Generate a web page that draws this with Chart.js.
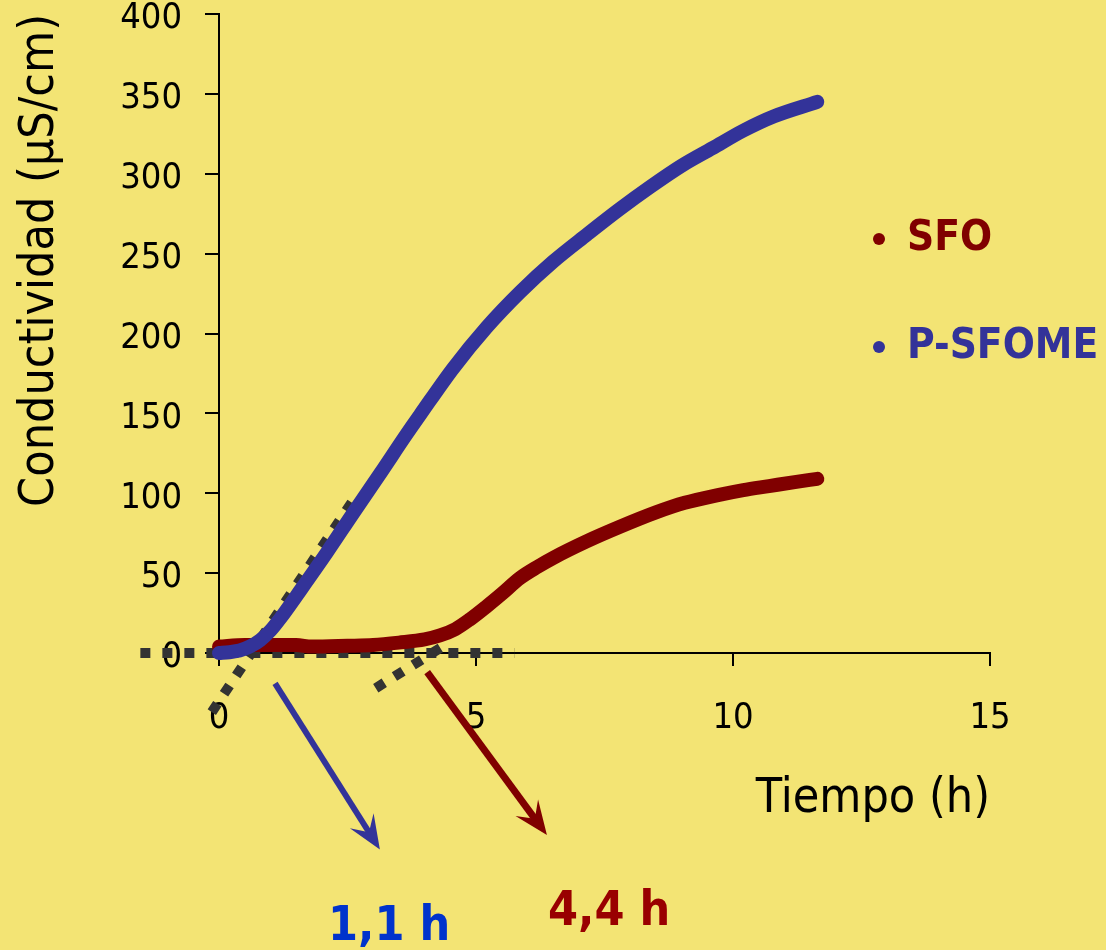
<!DOCTYPE html>
<html lang="es">
<head>
<meta charset="UTF-8">
<title>Conductividad frente al tiempo</title>
<script src="https://cdn.jsdelivr.net/npm/chart.js"></script>
<style>
  html, body { margin: 0; padding: 0; background: #F3E474; }
  #grafico { display: block; }
</style>
</head>
<body>
<canvas id="grafico" width="1106" height="950"></canvas>
<script>
// Valores: tiempo en h, conductividad en µS/cm
const tiempoPSFOME = [0, 0.2, 0.4, 0.6, 0.8, 1.0, 1.2, 1.6, 2.1, 2.6, 3.15, 3.65, 3.91, 4.55, 5.21, 5.86, 6.5, 7.16, 7.8, 8.4, 9.0, 9.6, 10.2, 10.8, 11.64];
const condPSFOME   = [0, 0.5, 1.5, 4, 8, 14, 22, 40, 63, 87, 113, 137, 149, 178, 204, 226, 245, 262, 278, 292, 305, 316, 327, 336, 345];

const tiempoSFO = [0, 0.5, 1.0, 1.5, 1.8, 2.5, 3.0, 3.5, 4.0, 4.3, 4.6, 4.88, 5.2, 5.5, 5.86, 6.2, 6.5, 7.16, 7.8, 8.5, 9.06, 9.73, 10.2, 10.7, 11.2, 11.64];
const condSFO   = [4, 5, 5, 5, 4, 4.5, 5, 6.5, 8.5, 11, 15, 21, 29, 37, 47, 54, 59.5, 70, 79, 88, 94, 99, 102, 104.5, 107, 109];

// rectas de punteado (línea base y tangentes)
const baseX = [-1.53, 5.75];
const baseY = [0, 0];
const tangPSFOMEX = [-0.14, 2.7];
const tangPSFOMEY = [-37, 100];
const tangSFOX = [3.05, 4.45];
const tangSFOY = [-22, 6];

// flechas hacia los tiempos de inducción
const flechaPSFOMEX = [1.09, 3.13];
const flechaPSFOMEY = [-19, -123];
const flechaSFOX = [4.05, 6.38];
const flechaSFOY = [-12, -114];

const ticksX = [0, 5, 10, 15];
const ticksY = [0, 50, 100, 150, 200, 250, 300, 350, 400];

const fuente = "'DejaVu Sans Condensed', 'Open Sans', 'DejaVu Sans', sans-serif";
Chart.defaults.font.family = fuente;
Chart.defaults.color = '#000';

function puntos(xs, ys) {
    return xs.map((x, i) => ({ x: x, y: ys[i] }));
}

function serie(label, xs, ys, color, orden) {
    return {
        label: label,
        data: puntos(xs, ys),
        showLine: true,
        borderColor: color,
        backgroundColor: color,
        borderWidth: 14,
        borderCapStyle: 'round',
        borderJoinStyle: 'round',
        cubicInterpolationMode: 'monotone',
        pointRadius: 0,
        clip: false,
        order: orden
    };
}

function punteado(xs, ys) {
    return {
        label: '',
        data: puntos(xs, ys),
        showLine: true,
        borderColor: '#333333',
        borderWidth: 10,
        borderDash: [10, 12],
        borderCapStyle: 'butt',
        pointRadius: 0,
        clip: false,
        order: 2
    };
}

// flechas y rótulos "1,1 h" / "4,4 h"
const anotaciones = {
    id: 'anotaciones',
    afterDatasetsDraw(chart) {
        const ctx = chart.ctx;
        const sx = chart.scales.x, sy = chart.scales.y;
        const flechas = [
            { xs: flechaPSFOMEX, ys: flechaPSFOMEY, color: '#333399', grosor: 6 },
            { xs: flechaSFOX, ys: flechaSFOY, color: '#800000', grosor: 7 }
        ];
        flechas.forEach(f => {
            const x1 = sx.getPixelForValue(f.xs[0]), y1 = sy.getPixelForValue(f.ys[0]);
            const x2 = sx.getPixelForValue(f.xs[1]), y2 = sy.getPixelForValue(f.ys[1]);
            const ang = Math.atan2(y2 - y1, x2 - x1);
            const largo = 34, ancho = 14;
            ctx.save();
            ctx.strokeStyle = f.color;
            ctx.fillStyle = f.color;
            ctx.lineWidth = f.grosor;
            ctx.beginPath();
            ctx.moveTo(x1, y1);
            ctx.lineTo(x2 - Math.cos(ang) * 18, y2 - Math.sin(ang) * 18);
            ctx.stroke();
            ctx.translate(x2, y2);
            ctx.rotate(ang);
            ctx.beginPath();
            ctx.moveTo(0, 0);
            ctx.lineTo(-largo, -ancho);
            ctx.lineTo(-largo * 0.6, 0);
            ctx.lineTo(-largo, ancho);
            ctx.closePath();
            ctx.fill();
            ctx.restore();
        });

        const rotulos = [
            { texto: '1,1 h', x: 2.12, y: -179.5, color: '#0033CC' },
            { texto: '4,4 h', x: 6.4, y: -170, color: '#990000' }
        ];
        ctx.save();
        ctx.font = 'bold 48px ' + fuente;
        ctx.textAlign = 'left';
        ctx.textBaseline = 'alphabetic';
        rotulos.forEach(r => {
            ctx.fillStyle = r.color;
            ctx.fillText(r.texto, sx.getPixelForValue(r.x), sy.getPixelForValue(r.y));
        });
        ctx.restore();
    }
};

// leyenda a la derecha, con viñetas
const leyenda = {
    id: 'leyenda',
    afterDraw(chart) {
        const ctx = chart.ctx;
        const area = chart.chartArea;
        const items = [chart.data.datasets[0], chart.data.datasets[1]];
        ctx.save();
        ctx.font = 'bold 42px ' + fuente;
        ctx.textBaseline = 'alphabetic';
        ctx.textAlign = 'left';
        items.forEach((d, i) => {
            const base = 250 + i * 108;
            ctx.fillStyle = d.borderColor;
            ctx.beginPath();
            ctx.arc(area.right - 111, base - 11, 6, 0, Math.PI * 2);
            ctx.fill();
            ctx.fillText(d.label, area.right - 83, base);
        });
        ctx.restore();
    }
};

const fondo = {
    id: 'fondo',
    beforeDraw(chart) {
        const ctx = chart.ctx;
        ctx.save();
        ctx.fillStyle = '#F3E474';
        ctx.fillRect(0, 0, chart.width, chart.height);
        ctx.restore();
    }
};

new Chart(document.getElementById('grafico'), {
    type: 'scatter',
    data: {
        datasets: [
            serie('SFO', tiempoSFO, condSFO, '#800000', 1),
            serie('P-SFOME', tiempoPSFOME, condPSFOME, '#333399', 0),
            punteado(baseX, baseY),
            punteado(tangPSFOMEX, tangPSFOMEY),
            punteado(tangSFOX, tangSFOY)
        ]
    },
    options: {
        responsive: false,
        animation: false,
        layout: { padding: { top: 14, right: 116, bottom: 0, left: 0 } },
        plugins: {
            legend: { display: false },
            tooltip: { enabled: false }
        },
        scales: {
            x: {
                type: 'linear',
                min: 0,
                max: 15,
                afterBuildTicks: s => { s.ticks = ticksX.map(v => ({ value: v })); },
                afterFit: s => { s.height = 297; s.paddingLeft = 0; s.paddingRight = 0; },
                ticks: { font: { size: 36 }, padding: 31, maxRotation: 0 },
                grid: { drawOnChartArea: false, tickLength: 13, color: '#000', lineWidth: 2 },
                border: { color: '#000', width: 2 },
                title: {
                    display: true,
                    text: 'Tiempo (h)',
                    align: 'end',
                    font: { size: 48 },
                    padding: { top: 0, bottom: 122 }
                }
            },
            y: {
                type: 'linear',
                min: 0,
                max: 400,
                afterBuildTicks: s => { s.ticks = ticksY.map(v => ({ value: v })); },
                afterFit: s => { s.width = 219; s.paddingTop = 0; s.paddingBottom = 0; },
                ticks: { font: { size: 36 }, padding: 23, labelOffset: 5 },
                grid: { drawOnChartArea: false, tickLength: 14, color: '#000', lineWidth: 2 },
                border: { color: '#000', width: 2 },
                title: {
                    display: true,
                    text: 'Conductividad (µS/cm)',
                    align: 'end',
                    font: { size: 48 },
                    padding: { top: 12, bottom: 0 }
                }
            }
        }
    },
    plugins: [fondo, anotaciones, leyenda]
});
</script>
</body>
</html>
